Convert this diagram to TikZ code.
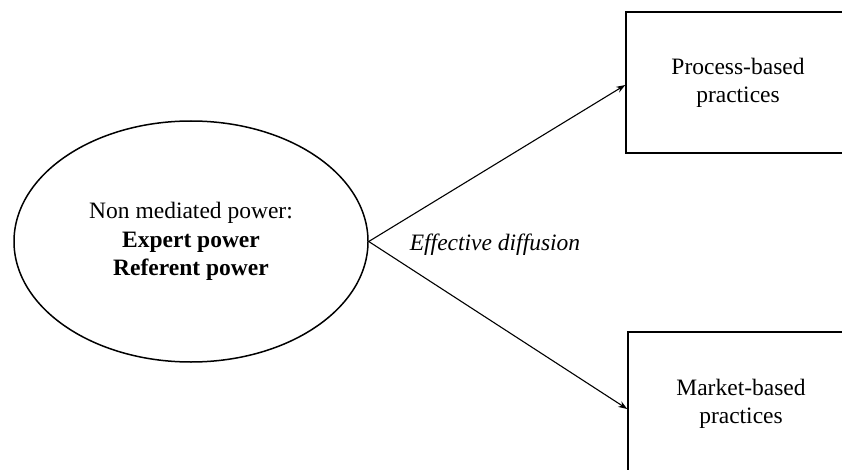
\documentclass[tikz,border=0pt]{standalone}
\usepackage{fontspec}
\setmainfont{Liberation Serif}
\usetikzlibrary{shapes.geometric,arrows.meta}
\begin{document}
\begin{tikzpicture}[x=1pt,y=-1pt,
  outline/.style={draw=black,line width=1.5pt},
  powerellipse/.style={outline,ellipse,minimum width=354pt,minimum height=241pt,inner sep=0pt,align=center,font=\fontsize{23.5}{28.5}\selectfont},
  practicebox/.style={outline,rectangle,inner sep=0pt,align=center,font=\fontsize{23.5}{28}\selectfont},
  link/.style={line width=1.1pt,-{Stealth[length=9pt,width=6.5pt]}}]
\clip (0,0) rectangle (842,470);
\fill[white] (0,0) rectangle (842,470);

\node[powerellipse] (power) at (191,241.5)
  {Non mediated power:\\\textbf{Expert power}\\\textbf{Referent power}};

\node[practicebox,minimum width=224pt,minimum height=141pt] (process) at (738,82.5)
  {Process-based\\practices};
\node[practicebox,minimum width=226pt,minimum height=144pt] (market) at (741,404)
  {Market-based\\practices};

% arrows meet the boxes a little below their mid-height
\draw[link] (power.east) -- ([yshift=-2.5pt]process.west);
\draw[link] (power.east) -- ([yshift=-5pt]market.west);

\node[font=\fontsize{23.5}{28}\selectfont\itshape] (diffusion) at (495,245) {Effective diffusion};
\end{tikzpicture}
\end{document}
